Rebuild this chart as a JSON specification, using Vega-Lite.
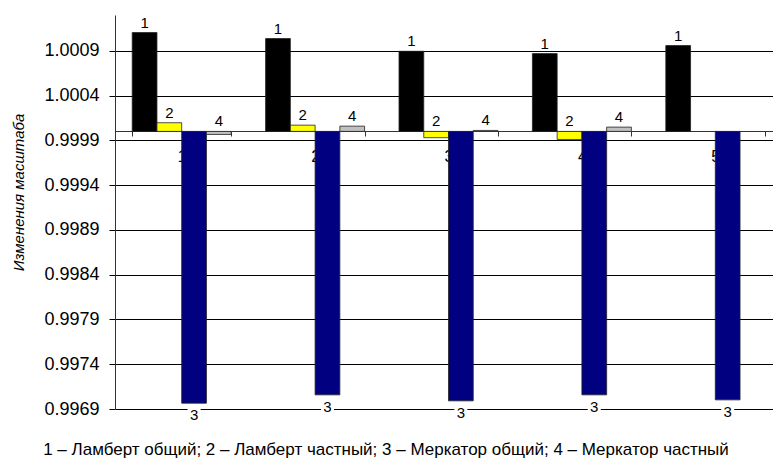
{
  "$schema": "https://vega.github.io/schema/vega-lite/v6.json",
  "width": 658,
  "height": 394,
  "autosize": {"type": "none"},
  "padding": {"left": 115, "top": 15, "right": 0, "bottom": 54},
  "background": "white",
  "config": {"view": {"stroke": null}, "font": "Liberation Sans"},
  "title": {
    "text": "1 – Ламберт общий; 2 – Ламберт частный; 3 – Меркатор общий; 4 – Меркатор частный",
    "orient": "bottom",
    "anchor": "middle",
    "fontSize": 17,
    "fontWeight": "normal",
    "color": "black",
    "dx": -58,
    "offset": 19
  },
  "data": {
    "values": [
      {"g": "1", "s": "1", "v": 1.001104},
      {"g": "1", "s": "2", "v": 1.000097},
      {"g": "1", "s": "3", "v": 0.996965},
      {"g": "1", "s": "4", "v": 0.999966},
      {"g": "2", "s": "1", "v": 1.001037},
      {"g": "2", "s": "2", "v": 1.00007},
      {"g": "2", "s": "3", "v": 0.997058},
      {"g": "2", "s": "4", "v": 1.000059},
      {"g": "3", "s": "1", "v": 1.000895},
      {"g": "3", "s": "2", "v": 0.99993},
      {"g": "3", "s": "3", "v": 0.996991},
      {"g": "3", "s": "4", "v": 1.000011},
      {"g": "4", "s": "1", "v": 1.000869},
      {"g": "4", "s": "2", "v": 0.99991},
      {"g": "4", "s": "3", "v": 0.997058},
      {"g": "4", "s": "4", "v": 1.000048},
      {"g": "5", "s": "1", "v": 1.000959},
      {"g": "5", "s": "3", "v": 0.997002}
    ]
  },
  "encoding": {
    "x": {
      "field": "g",
      "type": "nominal",
      "scale": {"domain": ["1", "2", "3", "4", "5"], "range": [0, 667], "paddingInner": 0.258, "paddingOuter": 0.129},
      "axis": {
        "orient": "bottom",
        "offset": -278,
        "title": null,
        "labelAngle": 0,
        "labelFontSize": 16,
        "labelColor": "black",
        "labelPadding": 12,
        "domainColor": "#333",
        "tickColor": "#333",
        "tickSize": 5,
        "tickBand": "extent",
        "grid": false,
        "zindex": 0
      }
    },
    "xOffset": {
      "field": "s",
      "type": "nominal",
      "scale": {"domain": ["1", "2", "3", "4"], "paddingInner": 0, "paddingOuter": 0}
    }
  },
  "layer": [
    {
      "mark": {"type": "bar", "stroke": "#222", "strokeWidth": 0.8},
      "encoding": {
        "y": {
          "field": "v",
          "type": "quantitative",
          "scale": {"domain": [0.9969, 1.0013], "nice": false, "zero": false},
          "axis": {
            "values": [0.9969, 0.9974, 0.9979, 0.9984, 0.9989, 0.9994, 0.9999, 1.0004, 1.0009],
            "format": ".4f",
            "grid": true,
            "gridColor": "black",
            "gridOpacity": 1,
            "gridWidth": 1,
            "domainColor": "#333",
            "tickColor": "black",
            "tickSize": 6,
            "labelFontSize": 18,
            "labelColor": "black",
            "labelPadding": 10,
            "title": "Изменения масштаба",
            "titleFontStyle": "italic",
            "titleFontWeight": "normal",
            "titleFontSize": 15,
            "titleColor": "black",
            "titleAngle": -90,
            "titleX": -97,
            "titleY": 177,
            "titleAlign": "center",
            "titleBaseline": "middle",
            "zindex": 0
          }
        },
        "y2": {"datum": 1},
        "color": {
          "field": "s",
          "type": "nominal",
          "scale": {"domain": ["1", "2", "3", "4"], "range": ["#000000", "#FFFF00", "#000080", "#C0C0C0"]},
          "legend": null
        }
      }
    },
    {
      "transform": [
        {"filter": "datum.s != '3'"},
        {"calculate": "max(datum.v, 1)", "as": "lp"}
      ],
      "mark": {"type": "text", "baseline": "alphabetic", "dy": -5, "fontSize": 15, "color": "black"},
      "encoding": {
        "y": {"field": "lp", "type": "quantitative"},
        "text": {"field": "s"}
      }
    },
    {
      "transform": [{"filter": "datum.s == '3'"}],
      "mark": {"type": "point", "shape": "square", "size": 170, "filled": true, "fill": "white", "opacity": 1, "strokeWidth": 0, "yOffset": 12},
      "encoding": {
        "y": {"field": "v", "type": "quantitative"}
      }
    },
    {
      "transform": [{"filter": "datum.s == '3'"}],
      "mark": {"type": "text", "baseline": "middle", "dy": 12, "fontSize": 15, "color": "black"},
      "encoding": {
        "y": {"field": "v", "type": "quantitative"},
        "text": {"field": "s"}
      }
    }
  ]
}
